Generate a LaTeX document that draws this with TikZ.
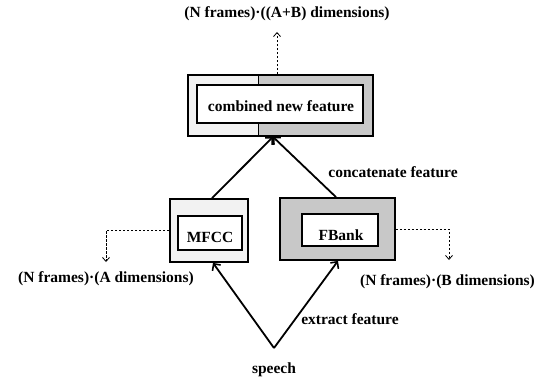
\documentclass[tikz,border=0pt]{standalone}
\usepackage{fontspec}
\setmainfont{Liberation Serif}
\usetikzlibrary{arrows.meta}
\definecolor{lightfill}{HTML}{F2F2F2}
\definecolor{darkfill}{HTML}{C8C8C8}
\begin{document}
\begin{tikzpicture}[x=1pt,y=-1pt,
  font=\fontsize{15.5}{18}\selectfont\bfseries,
  boxline/.style={draw=black, line width=1.8pt},
  outerbox/.style={boxline, inner sep=0pt},
  innerbox/.style={boxline, fill=white, inner sep=0pt},
  lbl/.style={anchor=base, inner sep=0pt},
  flow/.style={line width=1.8pt, -{Straight Barb[length=5pt,width=10pt,line width=1.6pt]}},
  dim/.style={line width=0.8pt, dash pattern=on 2.5pt off 1.5pt, -{Straight Barb[length=4pt,width=7pt,line width=0.8pt]}}]
\useasboundingbox (0,0) rectangle (551,385);

% combined feature box
\fill[lightfill] (188,75) rectangle (258,136);
\fill[darkfill] (258,75) rectangle (373,136);
\draw[line width=1pt] (258,75) -- (258,136);
\node[outerbox, minimum width=185pt, minimum height=61pt] (comb) at (280.5,105.5) {};
\node[innerbox, minimum width=166pt, minimum height=38pt] (combin) at (280,104) {};
\node[lbl] (combtxt) at (281,112) {combined new feature};

% MFCC
\node[outerbox, fill=lightfill, minimum width=78pt, minimum height=63pt] (mfcc) at (209,230.5) {};
\node[innerbox, minimum width=64pt, minimum height=34pt] (mfccin) at (210,233) {};
\node[lbl] (mfcctxt) at (210,242) {MFCC};

% FBank
\node[outerbox, fill=darkfill, minimum width=115pt, minimum height=62pt] (fbank) at (337.5,229) {};
\node[innerbox, minimum width=76pt, minimum height=32pt] (fbankin) at (340,230) {};
\node[lbl] (fbanktxt) at (341,240) {FBank};

% speech
\coordinate (sp) at (274,348);
\node[lbl] (speech) at (274,373) {speech};

\draw[flow] (sp) -- ([xshift=4pt]mfcc.south);
\draw[flow] (sp) -- ([xshift=0.5pt]fbank.south);
\draw[flow] ([xshift=3pt]mfcc.north) -- ([xshift=-7.5pt]comb.south);
\draw[flow] ([xshift=-1.5pt]fbank.north) -- ([xshift=-7.5pt]comb.south);

\node[lbl] (extract) at (350,324) {extract feature};
\node[lbl] (concat) at (393,177) {concatenate feature};

% dimension outputs
\coordinate (dimA) at (106,262);
\coordinate (dimB) at (449,260);
\coordinate (dimAB) at (277,32);
\draw[dim] (mfcc.west) -| (dimA);
\draw[dim] (fbank.east) -| (dimB);
\draw[dim] ([xshift=-3.5pt]comb.north) -- (dimAB);

\node[lbl] (labA) at (106,282) {(N frames)·(A dimensions)};
\node[lbl] (labB) at (447.5,285) {(N frames)·(B dimensions)};
\node[lbl] (labAB) at (287,18) {(N frames)·((A+B) dimensions)};
\end{tikzpicture}
\end{document}
